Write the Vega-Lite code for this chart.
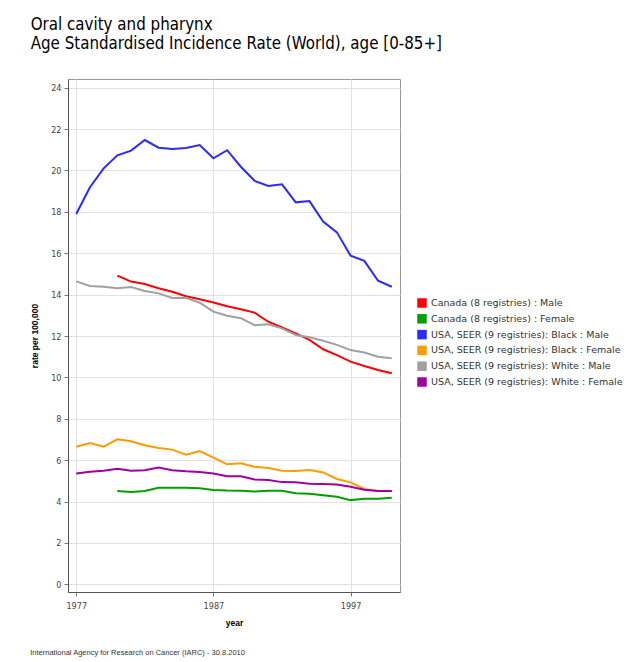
{
  "$schema": "https://vega.github.io/schema/vega-lite/v6.json",
  "background": "white",
  "padding": {"left": 30, "top": 16, "right": 5, "bottom": 5},
  "config": {"font": "DejaVu Sans Condensed", "view": {"stroke": "#999999", "strokeWidth": 1}},
  "title": {"text": "International Agency for Research on Cancer (IARC) - 30.8.2010", "orient": "bottom", "anchor": "start", "frame": "bounds", "fontSize": 7.5, "fontWeight": "normal", "color": "#333333", "font": "Liberation Sans", "offset": 22},
  "vconcat": [{
    "width": 332,
    "height": 513,
    "title": {"text": ["Oral cavity and pharynx", "Age Standardised Incidence Rate (World), age [0-85+]"], "anchor": "start", "frame": "bounds", "fontSize": 16.8, "fontWeight": "normal", "color": "#000000", "lineHeight": 19, "offset": 26, "font": "DejaVu Sans Condensed"},
    "data": {"values": [
      {"year": 1977, "USA, SEER (9 registries): Black : Male": 17.9, "USA, SEER (9 registries): Black : Female": 6.65, "USA, SEER (9 registries): White : Male": 14.64, "USA, SEER (9 registries): White : Female": 5.36},
      {"year": 1978, "USA, SEER (9 registries): Black : Male": 19.19, "USA, SEER (9 registries): Black : Female": 6.83, "USA, SEER (9 registries): White : Male": 14.42, "USA, SEER (9 registries): White : Female": 5.44},
      {"year": 1979, "USA, SEER (9 registries): Black : Male": 20.1, "USA, SEER (9 registries): Black : Female": 6.65, "USA, SEER (9 registries): White : Male": 14.38, "USA, SEER (9 registries): White : Female": 5.49},
      {"year": 1980, "USA, SEER (9 registries): Black : Male": 20.73, "USA, SEER (9 registries): Black : Female": 7.01, "USA, SEER (9 registries): White : Male": 14.31, "USA, SEER (9 registries): White : Female": 5.59, "Canada (8 registries) : Male": 14.92, "Canada (8 registries) : Female": 4.51},
      {"year": 1981, "USA, SEER (9 registries): Black : Male": 20.96, "USA, SEER (9 registries): Black : Female": 6.91, "USA, SEER (9 registries): White : Male": 14.37, "USA, SEER (9 registries): White : Female": 5.49, "Canada (8 registries) : Male": 14.63, "Canada (8 registries) : Female": 4.46},
      {"year": 1982, "USA, SEER (9 registries): Black : Male": 21.47, "USA, SEER (9 registries): Black : Female": 6.72, "USA, SEER (9 registries): White : Male": 14.18, "USA, SEER (9 registries): White : Female": 5.51, "Canada (8 registries) : Male": 14.51, "Canada (8 registries) : Female": 4.51},
      {"year": 1983, "USA, SEER (9 registries): Black : Male": 21.1, "USA, SEER (9 registries): Black : Female": 6.59, "USA, SEER (9 registries): White : Male": 14.06, "USA, SEER (9 registries): White : Female": 5.64, "Canada (8 registries) : Male": 14.31, "Canada (8 registries) : Female": 4.67},
      {"year": 1984, "USA, SEER (9 registries): Black : Male": 21.04, "USA, SEER (9 registries): Black : Female": 6.51, "USA, SEER (9 registries): White : Male": 13.84, "USA, SEER (9 registries): White : Female": 5.51, "Canada (8 registries) : Male": 14.14, "Canada (8 registries) : Female": 4.67},
      {"year": 1985, "USA, SEER (9 registries): Black : Male": 21.09, "USA, SEER (9 registries): Black : Female": 6.26, "USA, SEER (9 registries): White : Male": 13.85, "USA, SEER (9 registries): White : Female": 5.46, "Canada (8 registries) : Male": 13.92, "Canada (8 registries) : Female": 4.67},
      {"year": 1986, "USA, SEER (9 registries): Black : Male": 21.23, "USA, SEER (9 registries): Black : Female": 6.44, "USA, SEER (9 registries): White : Male": 13.61, "USA, SEER (9 registries): White : Female": 5.43, "Canada (8 registries) : Male": 13.78, "Canada (8 registries) : Female": 4.64},
      {"year": 1987, "USA, SEER (9 registries): Black : Male": 20.59, "USA, SEER (9 registries): Black : Female": 6.12, "USA, SEER (9 registries): White : Male": 13.18, "USA, SEER (9 registries): White : Female": 5.36, "Canada (8 registries) : Male": 13.62, "Canada (8 registries) : Female": 4.56},
      {"year": 1988, "USA, SEER (9 registries): Black : Male": 20.98, "USA, SEER (9 registries): Black : Female": 5.8, "USA, SEER (9 registries): White : Male": 12.98, "USA, SEER (9 registries): White : Female": 5.22, "Canada (8 registries) : Male": 13.44, "Canada (8 registries) : Female": 4.53},
      {"year": 1989, "USA, SEER (9 registries): Black : Male": 20.18, "USA, SEER (9 registries): Black : Female": 5.85, "USA, SEER (9 registries): White : Male": 12.86, "USA, SEER (9 registries): White : Female": 5.22, "Canada (8 registries) : Male": 13.29, "Canada (8 registries) : Female": 4.52},
      {"year": 1990, "USA, SEER (9 registries): Black : Male": 19.5, "USA, SEER (9 registries): Black : Female": 5.68, "USA, SEER (9 registries): White : Male": 12.52, "USA, SEER (9 registries): White : Female": 5.07, "Canada (8 registries) : Male": 13.13, "Canada (8 registries) : Female": 4.49},
      {"year": 1991, "USA, SEER (9 registries): Black : Male": 19.25, "USA, SEER (9 registries): Black : Female": 5.62, "USA, SEER (9 registries): White : Male": 12.57, "USA, SEER (9 registries): White : Female": 5.04, "Canada (8 registries) : Male": 12.69, "Canada (8 registries) : Female": 4.52},
      {"year": 1992, "USA, SEER (9 registries): Black : Male": 19.33, "USA, SEER (9 registries): Black : Female": 5.49, "USA, SEER (9 registries): White : Male": 12.37, "USA, SEER (9 registries): White : Female": 4.94, "Canada (8 registries) : Male": 12.41, "Canada (8 registries) : Female": 4.52},
      {"year": 1993, "USA, SEER (9 registries): Black : Male": 18.46, "USA, SEER (9 registries): Black : Female": 5.48, "USA, SEER (9 registries): White : Male": 12.05, "USA, SEER (9 registries): White : Female": 4.93, "Canada (8 registries) : Male": 12.13, "Canada (8 registries) : Female": 4.4},
      {"year": 1994, "USA, SEER (9 registries): Black : Male": 18.52, "USA, SEER (9 registries): Black : Female": 5.52, "USA, SEER (9 registries): White : Male": 11.94, "USA, SEER (9 registries): White : Female": 4.86, "Canada (8 registries) : Male": 11.81, "Canada (8 registries) : Female": 4.38},
      {"year": 1995, "USA, SEER (9 registries): Black : Male": 17.53, "USA, SEER (9 registries): Black : Female": 5.41, "USA, SEER (9 registries): White : Male": 11.77, "USA, SEER (9 registries): White : Female": 4.85, "Canada (8 registries) : Male": 11.36, "Canada (8 registries) : Female": 4.3},
      {"year": 1996, "USA, SEER (9 registries): Black : Male": 17.01, "USA, SEER (9 registries): Black : Female": 5.09, "USA, SEER (9 registries): White : Male": 11.57, "USA, SEER (9 registries): White : Female": 4.83, "Canada (8 registries) : Male": 11.08, "Canada (8 registries) : Female": 4.23},
      {"year": 1997, "USA, SEER (9 registries): Black : Male": 15.88, "USA, SEER (9 registries): Black : Female": 4.93, "USA, SEER (9 registries): White : Male": 11.32, "USA, SEER (9 registries): White : Female": 4.72, "Canada (8 registries) : Male": 10.76, "Canada (8 registries) : Female": 4.07},
      {"year": 1998, "USA, SEER (9 registries): Black : Male": 15.63, "USA, SEER (9 registries): Black : Female": 4.61, "USA, SEER (9 registries): White : Male": 11.2, "USA, SEER (9 registries): White : Female": 4.57, "Canada (8 registries) : Male": 10.55, "Canada (8 registries) : Female": 4.14},
      {"year": 1999, "USA, SEER (9 registries): Black : Male": 14.67, "USA, SEER (9 registries): Black : Female": 4.51, "USA, SEER (9 registries): White : Male": 11.0, "USA, SEER (9 registries): White : Female": 4.51, "Canada (8 registries) : Male": 10.36, "Canada (8 registries) : Female": 4.14},
      {"year": 2000, "USA, SEER (9 registries): Black : Male": 14.38, "USA, SEER (9 registries): Black : Female": 4.51, "USA, SEER (9 registries): White : Male": 10.92, "USA, SEER (9 registries): White : Female": 4.51, "Canada (8 registries) : Male": 10.2, "Canada (8 registries) : Female": 4.19}
    ]},
    "transform": [
      {"fold": ["Canada (8 registries) : Male", "Canada (8 registries) : Female", "USA, SEER (9 registries): Black : Male", "USA, SEER (9 registries): Black : Female", "USA, SEER (9 registries): White : Male", "USA, SEER (9 registries): White : Female"], "as": ["series", "rate"]}
    ],
    "mark": {"type": "line", "strokeWidth": 2},
    "encoding": {
      "x": {"field": "year", "type": "quantitative",
        "scale": {"domain": [1976.4, 2000.6], "nice": false, "zero": false},
        "axis": {"values": [1977, 1987, 1997], "format": "d", "title": "year", "titleFont": "Liberation Sans", "titleFontWeight": "bold", "titleFontSize": 8.5, "titleColor": "#000000", "titlePadding": 8, "labelFont": "DejaVu Sans Condensed", "labelFontSize": 9, "labelColor": "#444444", "tickSize": 4, "tickColor": "#777777", "domainColor": "#555555", "gridColor": "#e2e2e2", "labelPadding": 5}},
      "y": {"field": "rate", "type": "quantitative",
        "scale": {"domain": [-0.37, 24.42], "nice": false, "zero": false},
        "axis": {"values": [0, 2, 4, 6, 8, 10, 12, 14, 16, 18, 20, 22, 24], "title": "rate per 100,000", "titleFont": "Liberation Sans", "titleFontWeight": "bold", "titleFontSize": 8.5, "titleColor": "#000000", "titlePadding": 11, "labelFont": "DejaVu Sans Condensed", "labelFontSize": 9, "labelColor": "#444444", "tickSize": 4, "tickColor": "#777777", "domainColor": "#555555", "gridColor": "#e2e2e2", "labelPadding": 3}},
      "color": {"field": "series", "type": "nominal",
        "scale": {"domain": ["Canada (8 registries) : Male", "Canada (8 registries) : Female", "USA, SEER (9 registries): Black : Male", "USA, SEER (9 registries): Black : Female", "USA, SEER (9 registries): White : Male", "USA, SEER (9 registries): White : Female"],
                  "range": ["#ff0000", "#00a000", "#2a2aff", "#ff9a00", "#a0a0a0", "#a000a0"]},
        "legend": {"title": null, "orient": "none", "legendX": 349, "legendY": 219, "symbolType": "square", "symbolSize": 90, "symbolStrokeWidth": 0, "labelFont": "DejaVu Sans", "labelFontSize": 9.5, "labelColor": "#333333", "rowPadding": 5.8, "labelOffset": 4, "labelLimit": 300,
          "encode": {"symbols": {"update": {"fill": {"scale": "color", "field": "value"}, "fillOpacity": {"value": 1}}}}}}
    }
  }]
}
